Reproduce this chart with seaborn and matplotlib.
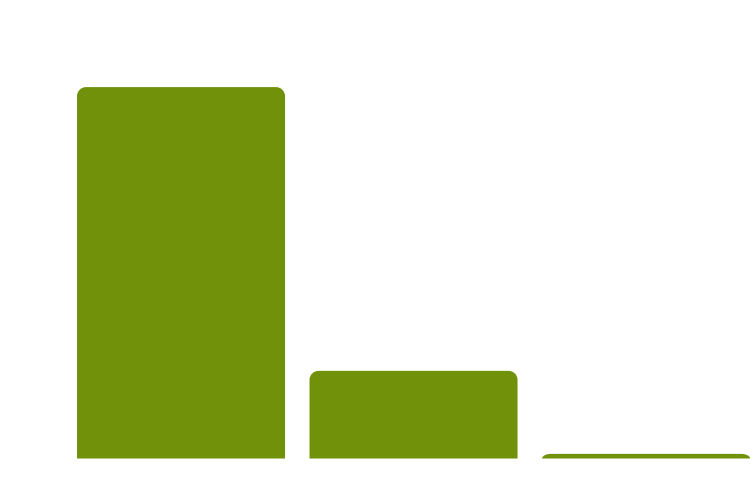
import matplotlib
matplotlib.use("Agg")
import matplotlib.pyplot as plt
import seaborn as sns
import pandas as pd
from matplotlib.path import Path
from matplotlib.patches import PathPatch

categories = ["A", "B", "C"]
values = [100, 23.6, 1.25]

df = pd.DataFrame({"cat": categories, "val": values})

fig = plt.figure(figsize=(7.5, 4.86), dpi=100)
ax = fig.add_axes([0, 0, 1, 1])
sns.barplot(data=df, x="cat", y="val", color="#71910b", width=0.8946,
            saturation=1, ax=ax, errorbar=None)

ax.set_xlim(-0.7785, 2.447)
ax.set_ylim(-7.40, 123.45)
ax.axis("off")

# round the top corners
px_per_x = 232.5
px_per_y = 3.714
r_px = 9.0
for p in list(ax.patches):
    x0, y0 = p.get_x(), p.get_y()
    w, h = p.get_width(), p.get_height()
    rx = r_px / px_per_x
    ry = min(r_px / px_per_y, h)
    k = 0.5523
    x1 = x0 + w
    y1 = y0 + h
    verts = [
        (x0, y0),
        (x0, y1 - ry),
        (x0, y1 - ry + k * ry), (x0 + rx - k * rx, y1), (x0 + rx, y1),
        (x1 - rx, y1),
        (x1 - rx + k * rx, y1), (x1, y1 - ry + k * ry), (x1, y1 - ry),
        (x1, y0),
        (x0, y0),
    ]
    codes = [Path.MOVETO, Path.LINETO,
             Path.CURVE4, Path.CURVE4, Path.CURVE4,
             Path.LINETO,
             Path.CURVE4, Path.CURVE4, Path.CURVE4,
             Path.LINETO, Path.CLOSEPOLY]
    pp = PathPatch(Path(verts, codes), facecolor=p.get_facecolor(),
                   edgecolor="none", linewidth=0)
    p.set_visible(False)
    ax.add_patch(pp)

fig.savefig("out.png", dpi=100)
